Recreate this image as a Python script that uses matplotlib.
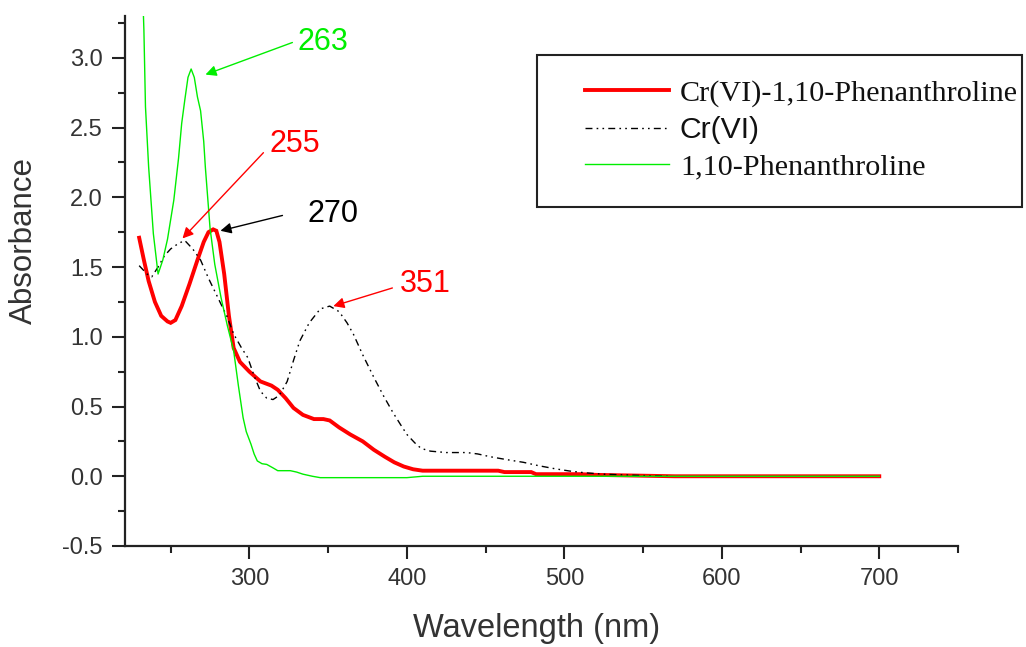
import matplotlib
matplotlib.use("Agg")
import matplotlib.pyplot as plt
from matplotlib.patches import Rectangle

# Cr(VI)-1,10-Phenanthroline complex
x_complex = [230, 233, 236, 240, 244, 248, 250, 253, 257, 262, 267, 271, 274, 277, 279,
             281, 284, 287, 290, 294, 300, 307, 314, 318, 323, 328, 334, 341, 347, 351,
             357, 364, 372, 379, 386, 392, 398, 404, 410, 430, 458, 462, 479, 482, 510,
             520, 570, 700]
y_complex = [1.71, 1.55, 1.40, 1.25, 1.15, 1.11, 1.10, 1.12, 1.22, 1.38, 1.55, 1.68, 1.75,
             1.77, 1.76, 1.68, 1.45, 1.15, 0.92, 0.82, 0.75, 0.68, 0.65, 0.62, 0.56, 0.49,
             0.44, 0.41, 0.41, 0.40, 0.35, 0.30, 0.25, 0.19, 0.14, 0.10, 0.07, 0.05, 0.04,
             0.04, 0.04, 0.03, 0.03, 0.015, 0.015, 0.01, 0.0, 0.0]

# Cr(VI)
x_cr = [230, 235, 238, 242, 246, 250, 255, 259, 264, 269, 274, 280, 286, 290, 295, 299,
        303, 307, 311, 315, 319, 324, 328, 332, 338, 345, 351, 357, 362, 366, 372, 379,
        385, 391, 396, 400, 405, 409, 415, 425, 438, 445, 453, 463, 474, 484, 494, 503,
        513, 525, 537, 550, 568]
y_cr = [1.51, 1.45, 1.43, 1.50, 1.58, 1.63, 1.67, 1.69, 1.63, 1.55, 1.42, 1.28, 1.14,
        1.02, 0.92, 0.85, 0.72, 0.61, 0.56, 0.55, 0.58, 0.68, 0.83, 0.97, 1.10, 1.20,
        1.22, 1.18, 1.10, 1.02, 0.87, 0.71, 0.58, 0.46, 0.37, 0.30, 0.24, 0.20, 0.18,
        0.17, 0.17, 0.16, 0.14, 0.12, 0.10, 0.075, 0.054, 0.038, 0.025, 0.015, 0.01,
        0.005, 0.0]

# 1,10-Phenanthroline
x_phen = [231, 233, 234, 236, 239, 242, 245, 248, 252, 255, 257, 259, 261, 263, 265, 267,
          269, 271, 272, 275, 278, 282, 286, 290, 293, 296, 298, 301, 303, 305, 308, 311,
          315, 318, 326, 330, 334, 340, 345, 400, 410, 700]
y_phen = [3.9, 3.2, 2.65, 2.22, 1.74, 1.45, 1.55, 1.70, 1.98, 2.28, 2.53, 2.70, 2.86,
          2.92, 2.86, 2.72, 2.62, 2.40, 2.22, 1.78, 1.52, 1.28, 1.08, 0.90, 0.65, 0.42,
          0.32, 0.23, 0.16, 0.11, 0.09, 0.085, 0.06, 0.04, 0.04, 0.03, 0.015, 0.0,
          -0.01, -0.01, 0.0, 0.0]

# peak annotations: label, colour, arrow head (x, y), arrow tail (x, y), text pos (x, y)
peak_labels = ["263", "255", "270", "351"]
peak_colors = ["#00ee00", "#ff0000", "#000000", "#ff0000"]
peak_heads = [(272.1, 2.88), (257.5, 1.705), (281.6, 1.76), (353.3, 1.22)]
peak_tails = [(327.3, 3.11), (308.9, 2.32), (321.0, 1.87), (390.8, 1.35)]
peak_text = [(330.5, 3.11), (313.0, 2.38), (337.0, 1.88), (395.5, 1.38)]

fig = plt.figure(figsize=(10.26, 6.47), dpi=100)
ax = fig.add_axes([125 / 1026, 1 - 546 / 647, (958 - 125) / 1026, (546 - 16) / 647])

ax.plot(x_complex, y_complex, color="#ff0000", lw=2.8, label="Cr(VI)-1,10-Phenanthroline",
        solid_joinstyle="miter")
ax.plot(x_cr, y_cr, color="black", lw=1.0, dashes=(5, 3, 1.2, 3, 1.2, 3), label="Cr(VI)")
ax.plot(x_phen, y_phen, color="#00ee00", lw=1.0, label="1,10-Phenanthroline")

for lab, col, head, tail, pos in zip(peak_labels, peak_colors, peak_heads, peak_tails, peak_text):
    ax.annotate("", xy=head, xytext=tail,
                arrowprops=dict(arrowstyle="-|>", color=col, lw=1.0, mutation_scale=16,
                                shrinkA=0, shrinkB=0))
    ax.text(pos[0], pos[1], lab, color=col, fontsize=22, family="Liberation Sans",
            ha="left", va="center")

ax.set_xlim(221, 750)
ax.set_ylim(-0.5, 3.30)
ax.set_xticks([300, 400, 500, 600, 700])
ax.set_xticks([250, 350, 450, 550, 650, 750], minor=True)
ax.set_yticks([-0.5, 0.0, 0.5, 1.0, 1.5, 2.0, 2.5, 3.0])
ax.set_yticks([-0.25, 0.25, 0.75, 1.25, 1.75, 2.25, 2.75, 3.25], minor=True)
ax.set_yticklabels(["-0.5", "0.0", "0.5", "1.0", "1.5", "2.0", "2.5", "3.0"])

for s in ["top", "right"]:
    ax.spines[s].set_visible(False)
for s in ["left", "bottom"]:
    ax.spines[s].set_linewidth(1.6)
    ax.spines[s].set_color("#222222")

ax.tick_params(which="major", direction="out", length=9.5, width=1.5, color="#222222",
               labelsize=17, labelcolor="#333333", pad=6.5)
ax.tick_params(which="minor", direction="out", length=5, width=1.5, color="#222222")
for t in ax.get_xticklabels() + ax.get_yticklabels():
    t.set_family("Liberation Sans")

fig.text(537 / 1026, 1 - 628 / 647, "Wavelength (nm)", fontsize=23.5, family="Liberation Sans",
         color="#333333", ha="center", va="center")
fig.text(24 / 1026, 1 - 240 / 647, "Absorbance", fontsize=22.5, family="Liberation Sans",
         color="#333333", ha="center", va="center", rotation=90)

# legend box
fig.patches.append(Rectangle((537 / 1026, 1 - 207 / 647), (1022 - 537) / 1026, (207 - 55) / 647,
                             transform=fig.transFigure, fill=False, edgecolor="#222222",
                             lw=1.5, zorder=5))
leg = fig.legend(loc="center left", bbox_to_anchor=(585 / 1026, 1 - 130 / 647),
                 frameon=False, borderpad=0, borderaxespad=0, handlelength=2.8,
                 handletextpad=0.35, labelspacing=0.3,
                 prop={"family": "Liberation Serif", "size": 21.7})
leg.get_texts()[1].set_family("Liberation Sans")
for t in leg.get_texts():
    t.set_color("#111111")

fig.savefig("out.png", dpi=100)
